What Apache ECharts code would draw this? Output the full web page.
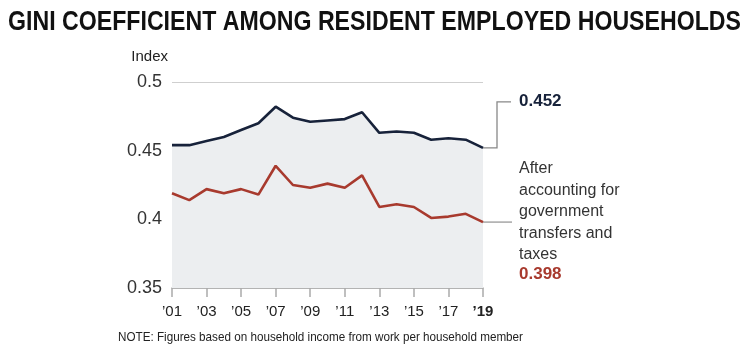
<!DOCTYPE html>
<html>
<head>
<meta charset="utf-8">
<script src="https://cdn.jsdelivr.net/npm/echarts@6/dist/echarts.min.js"></script>
<style>
  html, body { margin: 0; padding: 0; background: #fff; }
  #main { width: 750px; height: 350px; }
</style>
</head>
<body>
<div id="main"></div>
<script>
// years 2001 - 2019
const years = ['01', '02', '03', '04', '05', '06', '07', '08', '09', '10',
               '11', '12', '13', '14', '15', '16', '17', '18', '19']
// before transfers and taxes
const giniGross = [0.454, 0.454, 0.457, 0.460, 0.465, 0.470, 0.482, 0.474, 0.471, 0.472,
                   0.473, 0.478, 0.463, 0.464, 0.463, 0.458, 0.459, 0.458, 0.452]
// after government transfers and taxes
const giniNet = [0.419, 0.414, 0.422, 0.419, 0.422, 0.418, 0.439, 0.425, 0.423, 0.426,
                 0.423, 0.432, 0.409, 0.411, 0.409, 0.401, 0.402, 0.404, 0.398]
const yTicks = [0.35, 0.4, 0.45, 0.5]

const TITLE = 'GINI COEFFICIENT AMONG RESIDENT EMPLOYED HOUSEHOLDS'
const NOTE = 'NOTE: Figures based on household income from work per household member'

const NAVY = '#17223a'
const RED = '#a83a2e'
const FONT = '"Liberation Sans", Arial, sans-serif'

// no condensed font installed, so squeeze the text horizontally to the width it has in the picture
const ctx = document.createElement('canvas').getContext('2d')
function squeeze(text, font, width) {
    ctx.font = font
    return width / ctx.measureText(text).width
}
const titleFont = 'bold 28px ' + FONT
const noteFont = '13px ' + FONT
const titleScale = squeeze(TITLE, titleFont, 733)
const noteScale = squeeze(NOTE, noteFont, 405)

const chart = echarts.init(document.getElementById('main'))

const options = {
    backgroundColor: '#fff',
    animation: false,
    grid: { left: 172, right: 267, top: 82, bottom: 62 },
    xAxis: {
        type: 'category',
        data: years,
        boundaryGap: false,
        axisLine: { lineStyle: { color: '#aaa', width: 1.5 } },
        axisTick: { interval: 1, length: 9, lineStyle: { color: '#aaa', width: 1.5 } },
        axisLabel: {
            interval: 1,
            margin: 16,
            color: '#222',
            fontFamily: FONT,
            fontSize: 15,
            formatter: function (v, i) {
                return i === years.length - 1 ? '{b|\u2019' + v + '}' : '\u2019' + v
            },
            rich: { b: { fontWeight: 'bold', fontSize: 15, fontFamily: FONT, color: '#222' } }
        }
    },
    yAxis: {
        type: 'value',
        min: yTicks[0],
        max: yTicks[yTicks.length - 1],
        interval: 0.05,
        name: 'Index',
        nameLocation: 'end',
        nameGap: 18,
        nameTextStyle: { color: '#222', fontFamily: FONT, fontSize: 15, align: 'right', padding: [0, 4, 0, 0] },
        axisLine: { show: false },
        axisTick: { show: false },
        axisLabel: {
            margin: 10,
            color: '#333',
            fontFamily: FONT,
            fontSize: 18,
            formatter: function (v) { return String(+v.toFixed(2)) }
        },
        splitLine: { lineStyle: { color: '#cfcfcf', width: 1.2 } }
    },
    series: [
        {
            name: 'gross',
            type: 'line',
            data: giniGross,
            showSymbol: false,
            lineStyle: { color: NAVY, width: 2.6 },
            areaStyle: { color: '#eceef0', opacity: 1, origin: 'start' },
            z: 3
        },
        {
            name: 'net',
            type: 'line',
            data: giniNet,
            showSymbol: false,
            lineStyle: { color: RED, width: 2.6 },
            z: 4
        }
    ]
}

chart.setOption(options)

// annotation connectors and labels, placed from the last data point
const last = years.length - 1
const pG = chart.convertToPixel({ seriesIndex: 0 }, [last, giniGross[last]])
const pN = chart.convertToPixel({ seriesIndex: 1 }, [last, giniNet[last]])
const labelX = pG[0] + 36

chart.setOption({
    graphic: [
        {
            type: 'text',
            x: 8,
            y: 8,
            scaleX: titleScale,
            style: { text: TITLE, fill: '#111', font: titleFont }
        },
        {
            type: 'polyline',
            shape: { points: [[pG[0], pG[1]], [pG[0] + 14, pG[1]], [pG[0] + 14, pG[1] - 46], [pG[0] + 28, pG[1] - 46]] },
            style: { stroke: '#888', lineWidth: 1.3, fill: null }
        },
        {
            type: 'text',
            left: labelX,
            top: pG[1] - 55,
            style: { text: giniGross[last].toFixed(3), fill: NAVY, font: 'bold 17px ' + FONT }
        },
        {
            type: 'line',
            shape: { x1: pN[0], y1: pN[1], x2: pN[0] + 29, y2: pN[1] },
            style: { stroke: '#999', lineWidth: 1.3 }
        },
        {
            type: 'text',
            left: labelX,
            top: pN[1] - 64,
            style: {
                text: 'After\naccounting for\ngovernment\ntransfers and\ntaxes',
                fill: '#333',
                font: '16px ' + FONT,
                lineHeight: 21.5
            }
        },
        {
            type: 'text',
            left: labelX,
            top: pN[1] + 44,
            style: { text: giniNet[last].toFixed(3), fill: RED, font: 'bold 17px ' + FONT }
        },
        {
            type: 'text',
            x: 118,
            y: 331,
            scaleX: noteScale,
            style: { text: NOTE, fill: '#222', font: noteFont }
        }
    ]
})
</script>
</body>
</html>
